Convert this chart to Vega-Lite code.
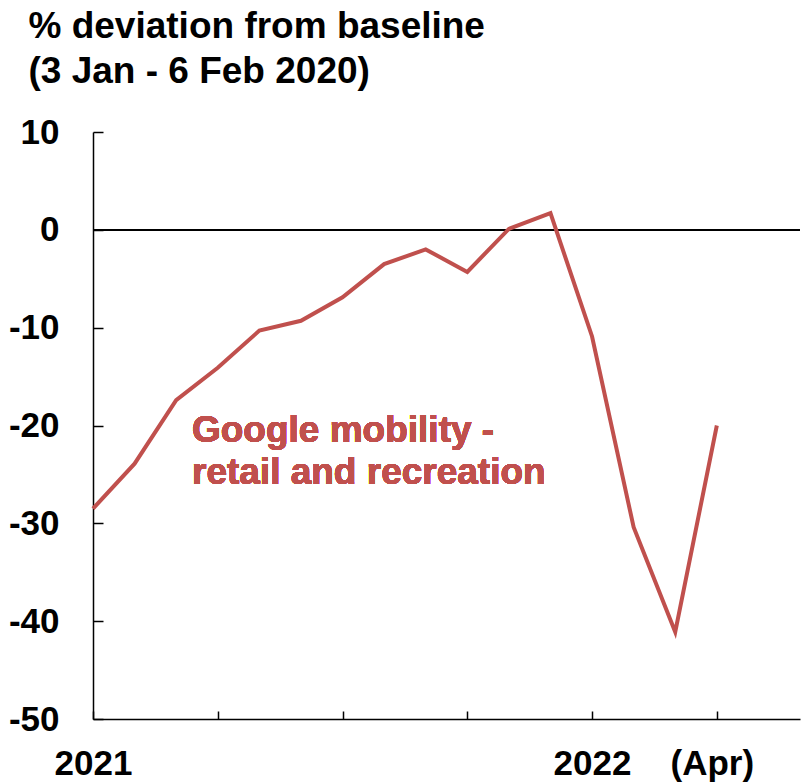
{
  "$schema": "https://vega.github.io/schema/vega-lite/v6.json",
  "width": 707,
  "height": 587,
  "autosize": {"type": "none"},
  "padding": {"left": 93, "top": 132, "right": 1, "bottom": 64},
  "background": "white",
  "config": {
    "view": {"stroke": null},
    "font": "Liberation Sans",
    "axis": {"grid": false, "domainColor": "black", "tickColor": "black", "labelColor": "black", "labelFont": "Liberation Sans", "labelFontWeight": "bold", "labelFontSize": 35, "titleFont": "Liberation Sans", "titleFontWeight": "bold", "titleColor": "black", "domainWidth": 1.5, "tickWidth": 1.5}
  },
  "data": {
    "values": [
      {"m": 0, "v": -28.5},
      {"m": 1, "v": -23.9},
      {"m": 2, "v": -17.4},
      {"m": 3, "v": -14.1},
      {"m": 4, "v": -10.3},
      {"m": 5, "v": -9.3},
      {"m": 6, "v": -6.9},
      {"m": 7, "v": -3.5},
      {"m": 8, "v": -2.0},
      {"m": 9, "v": -4.3},
      {"m": 10, "v": 0.1},
      {"m": 11, "v": 1.7},
      {"m": 12, "v": -10.9},
      {"m": 13, "v": -30.4},
      {"m": 14, "v": -41.1},
      {"m": 15, "v": -20.0}
    ]
  },
  "layer": [
    {
      "mark": {"type": "rule", "color": "black", "strokeWidth": 1.5},
      "encoding": {"y": {"datum": 0, "type": "quantitative"}}
    },
    {
      "mark": {"type": "line", "color": "#C0504D", "strokeWidth": 4, "strokeJoin": "miter"},
      "encoding": {
        "x": {
          "field": "m", "type": "quantitative",
          "scale": {"domain": [0, 17], "nice": false, "zero": false},
          "axis": {
            "title": null,
            "values": [0, 3, 6, 9, 12, 15],
            "tickSize": -8,
            "labelPadding": 35,
            "labelAlign": "center",
            "labelOffset": {"condition": {"test": "datum.value == 15", "value": -5}, "value": 0},
            "labelExpr": "datum.value == 0 ? '2021' : datum.value == 12 ? '2022' : datum.value == 15 ? '(Apr)' : ''"
          }
        },
        "y": {
          "field": "v", "type": "quantitative",
          "scale": {"domain": [-50, 10], "nice": false},
          "axis": {
            "values": [-50, -40, -30, -20, -10, 0, 10],
            "tickSize": -10,
            "labelPadding": 44,
            "labelExpr": "toString(datum.value)",
            "title": ["% deviation from baseline", "(3 Jan - 6 Feb 2020)"],
            "titleAngle": 0,
            "titleAlign": "left",
            "titleBaseline": "alphabetic",
            "titleX": -65,
            "titleY": -95,
            "titleFontSize": 37,
            "titleLineHeight": 45
          }
        }
      }
    },
    {
      "mark": {"type": "text", "color": "#C0504D", "font": "Liberation Sans", "fontWeight": "bold", "fontSize": 37, "align": "left", "baseline": "alphabetic", "lineHeight": 42, "lineBreak": "\n"},
      "encoding": {
        "x": {"datum": 2.38, "type": "quantitative"},
        "y": {"datum": -21.7, "type": "quantitative"},
        "text": {"value": "Google mobility -\nretail and recreation"}
      }
    }
  ]
}
